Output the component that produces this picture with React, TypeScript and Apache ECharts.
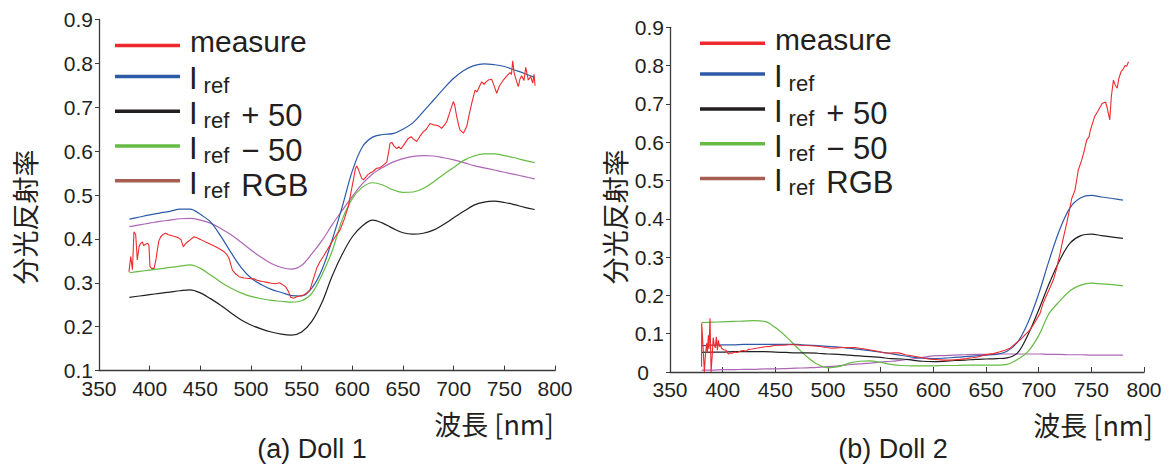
import React, { useEffect, useRef } from 'react';
import * as echarts from 'echarts';

// ---------- data ----------
const WAVELENGTHS = [380, 390, 400, 410, 420, 430, 440, 450, 460, 470, 480, 490, 500, 510, 520, 530, 540, 550, 560, 570, 580, 590, 600, 610, 620, 630, 640, 650, 660, 670, 680, 690, 700, 710, 720, 730, 740, 750, 760, 770, 780];

const SERIES_NAMES = ['measure', 'Iref', 'Iref + 50', 'Iref − 50', 'Iref RGB'];

// Doll 1
const DOLL1_IREF = [0.445, 0.450, 0.455, 0.459, 0.463, 0.468, 0.468, 0.456, 0.439, 0.407, 0.370, 0.336, 0.311, 0.296, 0.285, 0.278, 0.271, 0.270, 0.288, 0.330, 0.397, 0.473, 0.555, 0.610, 0.632, 0.638, 0.640, 0.650, 0.665, 0.690, 0.716, 0.742, 0.766, 0.784, 0.795, 0.799, 0.797, 0.793, 0.785, 0.777, 0.768];
const DOLL1_PLUS50 = [0.267, 0.270, 0.273, 0.276, 0.279, 0.282, 0.284, 0.277, 0.264, 0.249, 0.232, 0.216, 0.204, 0.195, 0.188, 0.183, 0.181, 0.188, 0.212, 0.255, 0.315, 0.365, 0.405, 0.430, 0.443, 0.436, 0.424, 0.414, 0.411, 0.413, 0.420, 0.433, 0.448, 0.463, 0.477, 0.484, 0.486, 0.483, 0.478, 0.472, 0.467];
const DOLL1_MINUS50 = [0.323, 0.326, 0.329, 0.332, 0.335, 0.338, 0.341, 0.333, 0.318, 0.302, 0.288, 0.277, 0.269, 0.264, 0.260, 0.258, 0.256, 0.259, 0.276, 0.318, 0.372, 0.444, 0.492, 0.518, 0.528, 0.523, 0.512, 0.506, 0.507, 0.515, 0.530, 0.547, 0.563, 0.579, 0.589, 0.594, 0.594, 0.590, 0.585, 0.579, 0.574];
const DOLL1_RGB = [0.428, 0.432, 0.436, 0.440, 0.443, 0.446, 0.447, 0.443, 0.436, 0.424, 0.410, 0.393, 0.375, 0.358, 0.344, 0.335, 0.331, 0.340, 0.366, 0.396, 0.432, 0.465, 0.497, 0.526, 0.548, 0.563, 0.575, 0.583, 0.588, 0.590, 0.589, 0.585, 0.580, 0.574, 0.567, 0.562, 0.557, 0.552, 0.547, 0.542, 0.537];
const DOLL1_MEASURE: [number, number][] = [
  [379.6, 0.325], [381.3, 0.36], [383, 0.33], [384.5, 0.416], [386.2, 0.41], [387.8, 0.352], [389.5, 0.382], [391, 0.39], [392.8, 0.393], [394, 0.385], [396, 0.388], [398, 0.39], [399.3, 0.385], [400.3, 0.337], [402, 0.333], [404.3, 0.333], [406, 0.35], [407.6, 0.375], [409, 0.395], [410.9, 0.405], [413, 0.41], [415.8, 0.413], [418, 0.41], [421, 0.408], [424, 0.406], [425.7, 0.405], [428, 0.403], [431, 0.398], [433.2, 0.382], [435, 0.388], [437.2, 0.393], [440, 0.398], [443.8, 0.405], [447, 0.402], [450, 0.399], [455.3, 0.393], [460, 0.388], [465.2, 0.382], [470, 0.376], [473.4, 0.371], [476, 0.365], [478.3, 0.356], [480, 0.342], [481.7, 0.329], [485, 0.32], [488.2, 0.314], [493, 0.311], [498, 0.31], [503, 0.309], [507, 0.305], [511.2, 0.303], [516, 0.301], [520, 0.299], [524.4, 0.298], [528, 0.3], [531, 0.296], [534.2, 0.291], [537, 0.28], [539.2, 0.267], [542, 0.265], [545, 0.268], [548, 0.27], [551.7, 0.272], [555, 0.277], [558.2, 0.284], [561, 0.305], [564.8, 0.333], [568, 0.348], [571.4, 0.36], [576, 0.378], [581.2, 0.398], [584, 0.408], [587.8, 0.42], [592, 0.445], [596, 0.473], [599, 0.51], [601, 0.534], [603, 0.56], [604.3, 0.566], [606, 0.558], [609.2, 0.538], [611, 0.535], [613, 0.54], [615, 0.546], [617.4, 0.55], [620, 0.553], [624, 0.561], [627, 0.562], [630.6, 0.568], [634, 0.575], [636, 0.6], [637.2, 0.618], [639, 0.62], [641, 0.612], [643.8, 0.606], [646, 0.61], [648, 0.605], [651, 0.615], [655.2, 0.629], [658, 0.633], [660, 0.628], [663.5, 0.622], [667, 0.635], [670, 0.644], [673, 0.65], [676.6, 0.663], [680, 0.66], [683.2, 0.659], [686, 0.656], [688.1, 0.652], [691, 0.66], [693.1, 0.667], [696.4, 0.69], [699.6, 0.713], [701, 0.705], [703, 0.679], [705, 0.658], [706.3, 0.648], [709.6, 0.641], [712.9, 0.656], [715, 0.68], [717.8, 0.709], [721.1, 0.739], [723, 0.735], [725, 0.745], [727.7, 0.758], [730, 0.752], [732, 0.758], [734.2, 0.762], [737.5, 0.764], [739, 0.755], [740.8, 0.743], [742.5, 0.732], [745, 0.748], [749, 0.762], [752.3, 0.771], [755.6, 0.779], [757, 0.775], [758.3, 0.806], [759.6, 0.779], [762, 0.76], [763.8, 0.747], [765.5, 0.765], [767.1, 0.772], [769.4, 0.761], [771.1, 0.791], [773.7, 0.762], [776, 0.77], [778, 0.755], [779.3, 0.775], [780.3, 0.749]
];

// Doll 2
const DOLL2_IREF = [0.069, 0.070, 0.071, 0.071, 0.072, 0.072, 0.072, 0.072, 0.072, 0.072, 0.070, 0.069, 0.067, 0.065, 0.062, 0.059, 0.056, 0.052, 0.048, 0.043, 0.039, 0.036, 0.035, 0.036, 0.038, 0.040, 0.042, 0.044, 0.046, 0.054, 0.078, 0.130, 0.204, 0.292, 0.372, 0.430, 0.455, 0.461, 0.457, 0.453, 0.449];
const DOLL2_PLUS50 = [0.051, 0.052, 0.052, 0.053, 0.053, 0.053, 0.053, 0.052, 0.051, 0.050, 0.050, 0.049, 0.047, 0.046, 0.044, 0.042, 0.040, 0.038, 0.035, 0.034, 0.031, 0.028, 0.027, 0.028, 0.030, 0.031, 0.033, 0.034, 0.035, 0.037, 0.050, 0.098, 0.162, 0.231, 0.292, 0.337, 0.356, 0.360, 0.356, 0.352, 0.349];
const DOLL2_MINUS50 = [0.129, 0.130, 0.131, 0.132, 0.133, 0.134, 0.132, 0.116, 0.093, 0.066, 0.040, 0.020, 0.011, 0.014, 0.023, 0.028, 0.029, 0.025, 0.020, 0.017, 0.016, 0.016, 0.016, 0.017, 0.017, 0.018, 0.018, 0.018, 0.018, 0.020, 0.033, 0.054, 0.095, 0.153, 0.185, 0.213, 0.227, 0.232, 0.230, 0.228, 0.225];
const DOLL2_RGB = [0.005, 0.005, 0.006, 0.006, 0.007, 0.007, 0.008, 0.008, 0.009, 0.010, 0.011, 0.012, 0.014, 0.016, 0.019, 0.021, 0.023, 0.026, 0.028, 0.031, 0.034, 0.038, 0.042, 0.043, 0.044, 0.045, 0.046, 0.046, 0.047, 0.047, 0.047, 0.047, 0.047, 0.046, 0.046, 0.045, 0.045, 0.044, 0.044, 0.044, 0.044];
const DOLL2_MEASURE: [number, number][] = [
  [380, 0.014], [380.1, 0.127], [381.5, 0.06], [382.6, 0.0], [383.5, 0.04], [384.8, 0.075], [385.5, 0.05], [386.4, 0.096], [387, 0.06], [388, 0.14], [389, 0.0], [390, 0.04], [391, 0.09], [392, 0.07], [393, 0.063], [394, 0.092], [395, 0.057], [395.9, 0.083], [397, 0.066], [398, 0.07], [399, 0.062], [401, 0.058], [403, 0.057], [405.4, 0.047], [407, 0.05], [409, 0.049], [411.7, 0.052], [414, 0.051], [417, 0.055], [420, 0.056], [422, 0.054], [424.3, 0.059], [428, 0.06], [432, 0.062], [436, 0.064], [440.2, 0.066], [445, 0.067], [449, 0.069], [452.8, 0.07], [458, 0.07], [463, 0.071], [468.7, 0.071], [474, 0.07], [480, 0.069], [487.7, 0.068], [494, 0.066], [498, 0.064], [503.5, 0.062], [508, 0.063], [514, 0.064], [520, 0.064], [525.6, 0.064], [530, 0.062], [535, 0.06], [541.5, 0.057], [547, 0.054], [552, 0.051], [557.3, 0.049], [562, 0.05], [566.8, 0.05], [570, 0.048], [573.1, 0.045], [578, 0.043], [584.2, 0.04], [590, 0.037], [595, 0.034], [600, 0.033], [605, 0.032], [610, 0.031], [615.8, 0.031], [620, 0.032], [625, 0.033], [631.7, 0.035], [637, 0.037], [642, 0.039], [647.5, 0.044], [652, 0.046], [657, 0.048], [663.3, 0.053], [668, 0.057], [672.8, 0.062], [677, 0.072], [682.3, 0.084], [687, 0.097], [691.8, 0.11], [696, 0.128], [701.3, 0.153], [704, 0.178], [707.6, 0.201], [711, 0.222], [713.9, 0.24], [717, 0.27], [720.3, 0.31], [723, 0.345], [726.6, 0.388], [729, 0.42], [731.4, 0.453], [734.5, 0.475], [736, 0.5], [737.6, 0.527], [740.8, 0.553], [743, 0.575], [745.6, 0.606], [747.8, 0.614], [749, 0.63], [751, 0.648], [753.1, 0.667], [756, 0.68], [758, 0.69], [760.3, 0.701], [763.5, 0.705], [765, 0.69], [767.5, 0.658], [769, 0.72], [771, 0.762], [772.5, 0.75], [774.6, 0.741], [776, 0.765], [778.2, 0.784], [780, 0.79], [782, 0.8], [783.5, 0.798], [785.3, 0.81]
];

const Y_TICKS_LEFT = { min: 0.1, max: 0.9, interval: 0.1 };
const Y_TICKS_RIGHT = { min: 0, max: 0.9, interval: 0.1 };
const X_TICKS = { min: 350, max: 800, interval: 50 };
const CAPTIONS = ['(a) Doll 1', '(b) Doll 2'];
const X_NAME = '波長 [nm]';
const Y_NAME = '分光反射率';

// ---------- style ----------
const COLORS: Record<string, string> = {
  'measure': '#ee2a2e',
  'Iref': '#2d5aa8',
  'Iref + 50': '#231f20',
  'Iref − 50': '#66bb44',
  'Iref RGB': '#ad66b5',
};
const RGB_LEGEND_COLOR = '#a85e50';
const TEXT = '#231f20';
const AXIS = '#3a3a3a';
const SANS = '"Liberation Sans", Arial, sans-serif';

const pairs = (ys: number[]) => WAVELENGTHS.map((x, i) => [x, ys[i]]);

function makeSeries(grid: number, iref: number[], plus: number[], minus: number[], rgb: number[], measure: [number, number][]) {
  const base = (name: string, data: any, smooth: boolean | number, width = 1.2) => ({
    type: 'line',
    name,
    xAxisIndex: grid,
    yAxisIndex: grid,
    data,
    smooth,
    showSymbol: false,
    symbol: 'none',
    color: COLORS[name],
    lineStyle: { color: COLORS[name], width },
    emphasis: { disabled: true },
  });
  return [
    base('Iref RGB', pairs(rgb), 0.35),
    base('Iref − 50', pairs(minus), 0.35),
    base('Iref + 50', pairs(plus), 0.35),
    base('Iref', pairs(iref), 0.35),
    base('measure', measure, false, 1.1),
  ];
}

// Legend rich text: every token has the same total box (H); its vertical offset
// from the icon centre is set with top padding.
const H = 33;
const INNER = 4;
const tok = (fontSize: number, offset: number, padLeft: number) => {
  const padT = offset + H / 2 - INNER / 2;
  return {
    fontFamily: SANS,
    fontSize,
    color: TEXT,
    verticalAlign: 'top',
    height: INNER,
    lineHeight: H,
    padding: [padT, 0, H - INNER - padT, padLeft],
  };
};
const legendRich = {
  m: tok(30, -3.7, 5),
  s: tok(20, 4.9, 0),
  I: tok(31, 2.3, 4),
  r: tok(22, 9.4, 6),
  n: tok(31, 4.3, 12),
};
const legendFormatter = (name: string) => {
  if (name === 'measure') return '{m|measure}{s| }';
  if (name === 'Iref') return '{I|I}{r|ref}';
  if (name === 'Iref + 50') return '{I|I}{r|ref}{n|+ 50}';
  if (name === 'Iref − 50') return '{I|I}{r|ref}{n|− 50}';
  return '{I|I}{r|ref}{n|RGB}';
};
const makeLegend = (left: number, firstRow: number) => ({
  orient: 'vertical',
  left,
  top: firstRow - 18.2,
  padding: 0,
  itemWidth: 65,
  itemHeight: 3.5,
  itemGap: -2.1,
  icon: 'rect',
  selectedMode: false,
  data: SERIES_NAMES.map((n) => ({ name: n, itemStyle: { color: n === 'Iref RGB' ? RGB_LEGEND_COLOR : COLORS[n] } })),
  formatter: legendFormatter,
  textStyle: { color: TEXT, fontFamily: SANS, fontSize: 30, lineHeight: H, rich: legendRich },
});

const tickFont = { fontFamily: SANS, fontSize: 21, color: TEXT, lineHeight: 16 };

const makeXAxis = (grid: number, nameGap: number) => ({
  type: 'value',
  gridIndex: grid,
  ...X_TICKS,
  axisLine: { show: true, onZero: false, lineStyle: { color: AXIS, width: 1.3 } },
  axisTick: { show: true, inside: true, length: 5, lineStyle: { color: AXIS, width: 1 } },
  axisLabel: { ...tickFont, margin: 9.5, showMinLabel: true, showMaxLabel: true, hideOverlap: false },
  splitLine: { show: false },
  name: X_NAME,
  nameLocation: 'end',
  nameGap,
  nameMoveOverlap: false,
  nameTextStyle: { fontFamily: '"Noto Sans CJK JP", sans-serif', fontSize: 27, color: TEXT, align: 'right', verticalAlign: 'top', padding: [39, 0, 0, 0] },
});

const makeYAxis = (grid: number, ticks: any, nameGap: number, shift: number) => ({
  type: 'value',
  gridIndex: grid,
  ...ticks,
  axisLine: { show: true, onZero: false, lineStyle: { color: AXIS, width: 1.3 } },
  axisTick: { show: true, inside: false, length: 4, lineStyle: { color: AXIS, width: 1 } },
  axisLabel: {
    ...tickFont,
    margin: 6,
    showMinLabel: true,
    showMaxLabel: true,
    formatter: (v: number) => (Math.abs(v) < 1e-9 ? '{z|0}' : v.toFixed(1)),
    rich: { z: { ...tickFont, padding: [0, 15, 0, 0] } },
  },
  splitLine: { show: false },
  name: Y_NAME,
  nameLocation: 'middle',
  nameRotate: 90,
  nameGap,
  nameMoveOverlap: false,
  nameTextStyle: { fontFamily: '"Noto Sans CJK JP", sans-serif', fontSize: 27, color: TEXT, padding: [0, shift, 0, 0] },
});

const captionText = (text: string, x: number) => ({
  type: 'text',
  x,
  y: 449,
  style: {
    text,
    font: '27px "Liberation Sans", Arial, sans-serif',
    fill: TEXT,
    align: 'center',
    verticalAlign: 'middle',
    textAlign: 'center',
    textVerticalAlign: 'middle',
  },
});

export default function App() {
  const ref = useRef<HTMLDivElement>(null);
  useEffect(() => {
    if (!ref.current) return;
    const chart = echarts.init(ref.current, null, { renderer: 'svg' });
    chart.setOption({
      animation: false,
      backgroundColor: '#ffffff',
      grid: [
        { left: 99, top: 19.5, width: 456, height: 351.1 },
        { left: 670, top: 27.3, width: 474, height: 344.7 },
      ],
      xAxis: [makeXAxis(0, -1), makeXAxis(1, 9)],
      yAxis: [makeYAxis(0, Y_TICKS_LEFT, 61.5, 44), makeYAxis(1, Y_TICKS_RIGHT, 42.5, 34)],
      legend: [makeLegend(115, 45), makeLegend(700, 42.7)],
      graphic: [captionText(CAPTIONS[0], 312), captionText(CAPTIONS[1], 893)],
      series: [
        ...makeSeries(0, DOLL1_IREF, DOLL1_PLUS50, DOLL1_MINUS50, DOLL1_RGB, DOLL1_MEASURE),
        ...makeSeries(1, DOLL2_IREF, DOLL2_PLUS50, DOLL2_MINUS50, DOLL2_RGB, DOLL2_MEASURE),
      ],
    });
    return () => chart.dispose();
  }, []);
  return <div ref={ref} style={{ position: 'absolute', left: 0, top: 0, width: 1169, height: 471 }} />;
}
